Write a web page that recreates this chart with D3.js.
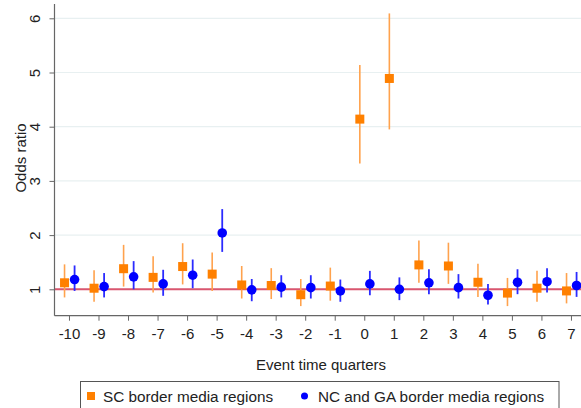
<!DOCTYPE html>
<html><head><meta charset="utf-8">
<script src="https://cdn.jsdelivr.net/npm/d3@7"></script>
<style>body{margin:0;background:#fff}svg{display:block}text{font-family:"Liberation Sans",Arial,sans-serif;fill:#222}</style>
</head><body><svg id="c" width="581" height="408"></svg>
<script>
const quarters = [-10,-9,-8,-7,-6,-5,-4,-3,-2,-1,0,1,2,3,4,5,6,7];
const scEst = [1.12,1.02,1.38,1.22,1.42,1.28,1.08,1.07,0.90,1.06,4.14,4.89,1.45,1.43,1.13,0.93,1.02,0.97];
const scLo  = [0.85,0.77,1.05,0.94,1.09,0.97,0.83,0.82,0.69,0.79,3.32,3.95,1.12,1.10,0.86,0.69,0.77,0.74];
const scHi  = [1.46,1.35,1.82,1.61,1.85,1.68,1.43,1.39,1.19,1.40,5.14,6.09,1.90,1.86,1.47,1.21,1.34,1.30];
const ncEst = [1.18,1.05,1.23,1.10,1.26,2.04,0.99,1.04,1.03,0.97,1.10,1.00,1.12,1.03,0.89,1.13,1.14,1.07];
const ncLo  = [0.97,0.85,1.00,0.88,1.02,1.69,0.78,0.85,0.83,0.77,0.89,0.80,0.91,0.83,0.72,0.91,0.94,0.86];
const ncHi  = [1.44,1.30,1.52,1.36,1.55,2.48,1.19,1.26,1.26,1.18,1.34,1.22,1.37,1.28,1.10,1.37,1.39,1.32];
const yTicks = [1,2,3,4,5,6];
const seriesNames = ["SC border media regions","NC and GA border media regions"];

const svg = d3.select("#c");
const x = d3.scaleLinear().domain([-10.49, 7.34]).range([54.5, 581]);
const y = d3.scaleLinear().domain([1, 6]).range([289.3, 18.3]);
const yBottom = 315.7, yTop = 4;
const fmt = d => String(d);

// gridlines
svg.append("g").selectAll("line").data(yTicks).join("line")
  .attr("x1", x.range()[0]).attr("x2", 581)
  .attr("y1", d => y(d)).attr("y2", d => y(d))
  .attr("stroke", "#e8f0f1").attr("stroke-width", 1.2);

// reference line at 1
svg.append("line").attr("x1", x.range()[0]).attr("x2", 581)
  .attr("y1", y(1)).attr("y2", y(1)).attr("stroke", "#d9566f").attr("stroke-width", 2);

// Axes
const yAxis = d3.axisLeft(y).tickValues(yTicks).tickSize(5).tickPadding(4).tickFormat(fmt);
const gy = svg.append("g").attr("transform", `translate(${x.range()[0]},0)`).call(yAxis);
gy.select(".domain").remove();
gy.selectAll(".tick line").attr("stroke", "#666");
gy.selectAll(".tick text").attr("font-size", 15).attr("fill", "#222")
  .attr("transform", "rotate(-90, -14, 0)")
  .attr("x", -14).attr("dy", "0.35em").attr("text-anchor", "middle").attr("y", -5.5);
svg.append("line").attr("x1", x.range()[0]).attr("x2", x.range()[0]).attr("y1", yTop).attr("y2", yBottom)
  .attr("stroke", "#666").attr("stroke-width", 1.2);

const xAxis = d3.axisBottom(x).tickValues(quarters).tickSize(5).tickPadding(8).tickFormat(fmt);
const gx = svg.append("g").attr("transform", `translate(0,${yBottom})`).call(xAxis);
gx.select(".domain").remove();
gx.selectAll(".tick line").attr("stroke", "#666");
gx.selectAll(".tick text").attr("font-size", 15).attr("fill", "#222");
svg.append("line").attr("x1", x.range()[0]).attr("x2", 581).attr("y1", yBottom).attr("y2", yBottom)
  .attr("stroke", "#666").attr("stroke-width", 1.2);

// axis titles
svg.append("text").attr("transform", "translate(25.5,158) rotate(-90)").attr("text-anchor", "middle")
  .attr("font-size", 15).text("Odds ratio");
svg.append("text").attr("x", 321).attr("y", 370).attr("text-anchor", "middle")
  .attr("font-size", 15).text("Event time quarters");

const offSC = -0.15, offNC = 0.19;
const sc = quarters.map((q,i)=>({q, e:scEst[i], lo:scLo[i], hi:scHi[i]}));
const nc = quarters.map((q,i)=>({q, e:ncEst[i], lo:ncLo[i], hi:ncHi[i]}));

// SC CIs and squares
svg.append("g").selectAll("line").data(sc).join("line")
  .attr("x1", d=>x(d.q+offSC)).attr("x2", d=>x(d.q+offSC))
  .attr("y1", d=>y(d.lo)).attr("y2", d=>y(d.hi))
  .attr("stroke", "#ffa24d").attr("stroke-width", 1.6);
svg.append("g").selectAll("rect").data(sc).join("rect")
  .attr("x", d=>x(d.q+offSC)-4.5).attr("y", d=>y(d.e)-4.5)
  .attr("width", 9).attr("height", 9).attr("fill", "#ff8000");

// NC CIs and dots
svg.append("g").selectAll("line").data(nc).join("line")
  .attr("x1", d=>x(d.q+offNC)).attr("x2", d=>x(d.q+offNC))
  .attr("y1", d=>y(d.lo)).attr("y2", d=>y(d.hi))
  .attr("stroke", "#2b2bff").attr("stroke-width", 1.8);
svg.append("g").selectAll("circle").data(nc).join("circle")
  .attr("cx", d=>x(d.q+offNC)).attr("cy", d=>y(d.e)).attr("r", 4.8).attr("fill", "#0000ff");

// legend
svg.append("rect").attr("x", 80.5).attr("y", 381.5).attr("width", 478.5).attr("height", 40)
  .attr("fill", "#fff").attr("stroke", "#555").attr("stroke-width", 1);
svg.append("rect").attr("x", 87).attr("y", 392).attr("width", 8).attr("height", 8).attr("fill", "#ff8000");
svg.append("text").attr("x", 103).attr("y", 401.5).attr("font-size", 15.3).text(seriesNames[0]);
svg.append("circle").attr("cx", 304.5).attr("cy", 396).attr("r", 3.5).attr("fill", "#0000ff");
svg.append("text").attr("x", 318).attr("y", 401.5).attr("font-size", 15.3).text(seriesNames[1]);
</script></body></html>
